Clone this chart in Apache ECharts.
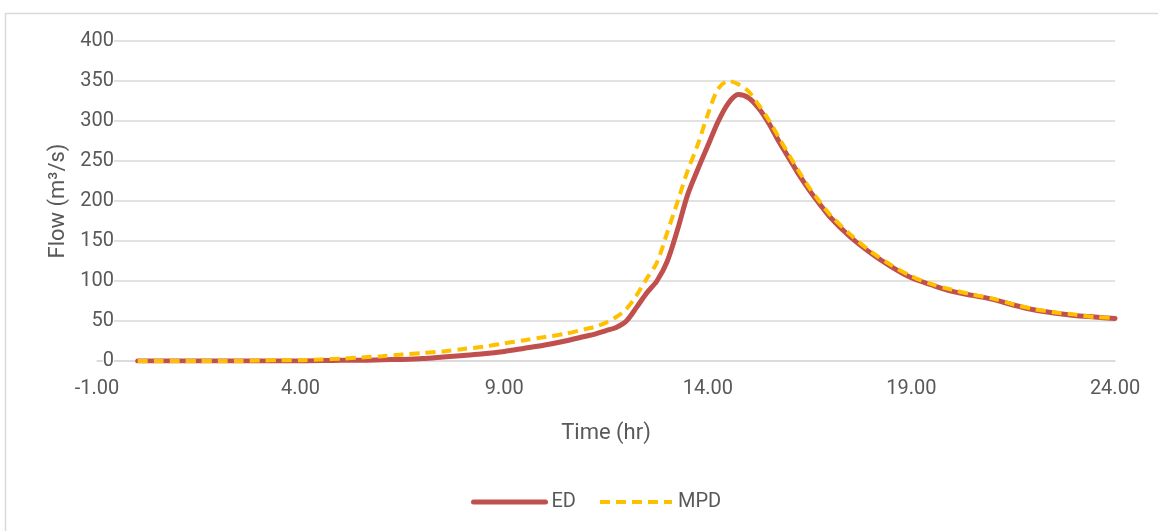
<!DOCTYPE html>
<html>
<head>
<meta charset="utf-8">
<script src="https://cdn.jsdelivr.net/npm/echarts@6/dist/echarts.min.js"></script>
<style>
  html, body { margin: 0; padding: 0; background: #fff; }
  #chart { width: 1158px; height: 531px; }
</style>
</head>
<body>
<div id="chart"></div>
<script>
/* Flow hydrograph: ED vs MPD */

// time (hr)
const TIME = [
    0, 0.5, 1, 1.5, 2, 2.5, 3, 3.5, 4, 4.5, 5, 5.5, 6, 6.5, 7, 7.5, 8, 8.5, 9, 9.5, 10, 10.5,
    11, 11.25, 11.5, 11.75, 12, 12.25, 12.5, 12.75, 13, 13.25, 13.5, 13.75, 14, 14.25, 14.5, 14.75,
    15, 15.25, 15.5, 15.75, 16, 16.25, 16.5, 16.75, 17,
    17.5, 18, 18.5, 19, 19.5, 20, 20.5, 21, 21.5, 22, 22.5, 23, 23.5, 24
];
// flow (m3/s)
const ED = [
    0, 0, 0, 0, 0, 0, 0, 0, 0, 0.5, 1, 1, 1.5, 2, 3, 5, 7, 9, 12, 16, 20, 25,
    31, 34, 38, 42, 50, 67, 85, 100, 124, 163, 207, 239, 269, 299, 322, 333,
    329, 316, 297, 274, 253, 232, 213, 196, 180,
    155, 135, 118, 104, 95, 87, 82, 77, 70, 64, 60, 57, 55, 53
];
const MPD = [
    0, 0, 0, 0, 0, 0, 0.5, 1, 1, 2, 3, 4.5, 6, 8, 10, 12, 15, 18, 22, 26, 30, 34,
    40, 43, 48, 55, 65, 82, 103, 123, 160, 198, 237, 270, 308, 340, 350, 346,
    337, 320, 301, 279, 257, 236, 216, 199, 183,
    158, 137, 120, 106, 96, 89, 83, 78, 71, 65, 61, 58, 55, 54
];
const X_MIN = -1, X_MAX = 24, X_STEP = 5;
const Y_MIN = 0, Y_MAX = 400, Y_STEP = 50;

function pairs(xs, ys) {
    let out = [];
    for (let i = 0; i < xs.length; i++) {
        out.push([xs[i], ys[i]]);
    }
    return out;
}

function renderFlow(container) {
    let textColor = '#595959';
    let font = 'Roboto';
    let edStyle = { color: '#C0504D', width: 5, cap: 'round' };
    let mpdStyle = { color: '#FFC000', width: 4, type: [10, 6], cap: 'butt' };

    let xAxis = {
        type: 'value',
        min: X_MIN,
        max: X_MAX,
        interval: X_STEP,
        name: 'Time (hr)',
        nameLocation: 'middle',
        nameGap: 61,
        nameTextStyle: { color: textColor, fontSize: 22, fontFamily: font },
        axisLine: { show: true, lineStyle: { color: '#d9d9d9', width: 1.5 } },
        axisTick: { show: false },
        splitLine: { show: false },
        axisLabel: {
            color: textColor,
            fontSize: 20,
            fontFamily: font,
            margin: 18,
            formatter: function(v) { return v.toFixed(2); }
        }
    };
    let yAxis = {
        type: 'value',
        min: Y_MIN,
        max: Y_MAX,
        interval: Y_STEP,
        name: 'Flow (m³/s)',
        nameLocation: 'middle',
        nameGap: 24,
        nameTextStyle: { color: textColor, fontSize: 22, fontFamily: font },
        axisLine: { show: false },
        axisTick: { show: false },
        splitLine: { show: true, lineStyle: { color: '#d9d9d9', width: 1.5 } },
        axisLabel: {
            color: textColor,
            fontSize: 20,
            fontFamily: font,
            margin: -17,
            backgroundColor: '#fff'
        }
    };
    let series = [{
        type: 'line',
        name: 'ED',
        data: pairs(TIME, ED),
        smooth: 0.3,
        symbol: 'none',
        lineStyle: edStyle,
        itemStyle: { color: '#C0504D' },
        z: 2
    }, {
        type: 'line',
        name: 'MPD',
        data: pairs(TIME, MPD),
        smooth: 0.3,
        symbol: 'none',
        lineStyle: mpdStyle,
        itemStyle: { color: '#FFC000' },
        z: 3
    }];
    let legend = {
        bottom: 14,
        left: 466,
        itemWidth: 72,
        itemHeight: 14,
        itemGap: 22,
        itemStyle: { opacity: 0 },
        textStyle: { color: textColor, fontSize: 20, fontFamily: font, padding: [0, 0, 0, 1] },
        data: [
            { name: 'ED', lineStyle: edStyle },
            { name: 'MPD', lineStyle: mpdStyle }
        ]
    };
    let graphic = [{
        type: 'rect',
        left: 3,
        top: 11,
        shape: { width: 1200, height: 600 },
        style: { fill: 'none', stroke: '#d9d9d9', lineWidth: 1.5 },
        silent: true
    }];
    let option = {
        animation: false,
        backgroundColor: '#fff',
        grid: { left: 97, right: 43, top: 41, bottom: 170, containLabel: false },
        xAxis: xAxis,
        yAxis: yAxis,
        series: series,
        legend: legend,
        graphic: graphic
    };
    let chart = echarts.init(container);
    chart.setOption(option);
}

renderFlow(document.getElementById('chart'));
</script>
</body>
</html>
